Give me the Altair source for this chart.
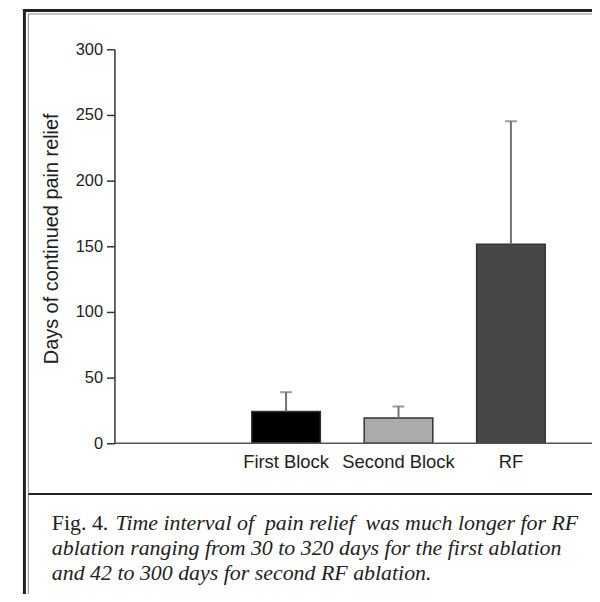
import altair as alt
import pandas as pd

categories = ["First Block", "Second Block", "RF"]
means = [24.2, 19.2, 151.5]
upper = [38.9, 28.0, 245.2]
fills = ["#000000", "#ababab", "#474747"]
y_ticks = [0, 50, 100, 150, 200, 250, 300]

NB = "\u00a0"
caption_fig = "Fig. 4."
caption_lines = [
    "Time interval of " + NB + "pain relief " + NB + "was much longer for RF",
    "ablation ranging from 30 to 320 days for the first ablation",
    "and 42 to 300 days for second RF ablation.",
]

df = pd.DataFrame({"cat": categories, "mean": means, "upper": upper, "fill": fills})

W, H = 480, 396

xscale = alt.Scale(domain=categories, range=[116, 455], paddingInner=0.39, paddingOuter=0.195)
yscale = alt.Scale(domain=[0, 300], nice=False)

base = alt.Chart(df)

bars = base.mark_bar(stroke="#333333", strokeWidth=1.5).encode(
    x=alt.X("cat:N", scale=xscale, sort=categories,
            axis=alt.Axis(title=None, domain=False, ticks=False, tickSize=0, labelAngle=0,
                          labelFontSize=18.5, labelFont="Liberation Sans", labelColor="#222222",
                          labelPadding=9)),
    y=alt.Y("mean:Q", scale=yscale,
            axis=alt.Axis(title="Days of continued pain relief", values=y_ticks, grid=False,
                          domainColor="#333333", domainWidth=1.5, tickColor="#333333",
                          tickWidth=1.5, tickSize=8, labelFontSize=16.5,
                          labelFont="Liberation Sans", labelColor="#222222", labelPadding=4,
                          titleFont="Liberation Sans", titleFontSize=20, titleFontWeight="normal",
                          titleColor="#222222", titlePadding=14, titleY=190)),
    color=alt.Color("fill:N", scale=None),
)

err = base.mark_rule(color="#707070", strokeWidth=2).encode(
    x=alt.X("cat:N", scale=xscale, sort=categories),
    y=alt.Y("mean:Q", scale=yscale),
    y2="upper:Q",
)

cap = base.mark_tick(color="#707070", thickness=2, size=12, orient="horizontal").encode(
    x=alt.X("cat:N", scale=xscale, sort=categories),
    y=alt.Y("upper:Q", scale=yscale),
)

zero_line = alt.Chart(pd.DataFrame({"v": [0]})).mark_rule(color="#555555", strokeWidth=1.5).encode(
    y=alt.Y("v:Q", scale=yscale), x=alt.value(0), x2=alt.value(W)
)

frame_df = pd.DataFrame({"k": [0]})
fb = alt.Chart(frame_df)
outer_v = fb.mark_rule(color="#222222", strokeWidth=3).encode(
    x=alt.value(-90.5), y=alt.value(-39), y2=alt.value(560))
outer_h = fb.mark_rule(color="#222222", strokeWidth=3).encode(
    x=alt.value(-92), x2=alt.value(500), y=alt.value(-39))
inner_v = fb.mark_rule(color="#888888", strokeWidth=1).encode(
    x=alt.value(-86.5), y=alt.value(-35.5), y2=alt.value(560))
inner_h = fb.mark_rule(color="#888888", strokeWidth=1).encode(
    x=alt.value(-86.5), x2=alt.value(500), y=alt.value(-35.5))
sep = fb.mark_rule(color="#222222", strokeWidth=2).encode(
    x=alt.value(-86.5), x2=alt.value(500), y=alt.value(447))

cap_font = "Liberation Serif"
cap_size = 22
fig_txt = fb.mark_text(align="left", baseline="alphabetic", font=cap_font, fontSize=cap_size,
                       color="#222222").encode(
    x=alt.value(-63), y=alt.value(483), text=alt.value(caption_fig))
line_txts = []
for i, t in enumerate(caption_lines):
    xx = 1 if i == 0 else -63
    line_txts.append(
        fb.mark_text(align="left", baseline="alphabetic", font=cap_font, fontSize=cap_size,
                     fontStyle="italic", color="#222222").encode(
            x=alt.value(xx), y=alt.value(483 + 25 * i), text=alt.value(t))
    )

chart = alt.layer(bars, err, cap, zero_line, outer_v, outer_h, inner_v, inner_h, sep,
                  fig_txt, *line_txts).properties(
    width=W, height=H,
    autosize=alt.AutoSizeParams(type="none"),
    padding={"left": 107, "top": 40, "right": 0, "bottom": 150},
).configure_view(stroke=None)

chart.save("out.html", embed_options={"renderer": "svg", "actions": False})
